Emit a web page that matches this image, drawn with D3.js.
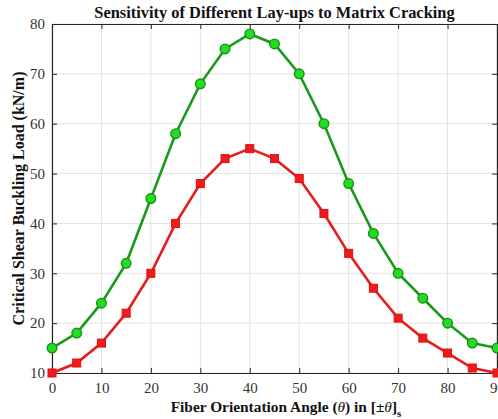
<!DOCTYPE html>
<html>
<head>
<meta charset="utf-8">
<script src="https://cdn.jsdelivr.net/npm/d3@7"></script>
<style>
  html, body { margin: 0; padding: 0; background: #fff; }
  svg { display: block; }
</style>
</head>
<body>
<svg id="chart" width="498" height="419"></svg>
<script>
// Fiber orientation angles (degrees)
const angles = [0, 5, 10, 15, 20, 25, 30, 35, 40, 45, 50, 55, 60, 65, 70, 75, 80, 85, 90];
// Critical shear buckling load (kN/m), two lay-up cases
const upperSeries = [15, 18, 24, 32, 45, 58, 68, 75, 78, 76, 70, 60, 48, 38, 30, 25, 20, 16, 15];
const lowerSeries = [10, 12, 16, 22, 30, 40, 48, 53, 55, 53, 49, 42, 34, 27, 21, 17, 14, 11, 10];
const xTicks = [0, 10, 20, 30, 40, 50, 60, 70, 80, 90];
const yTicks = [10, 20, 30, 40, 50, 60, 70, 80];

const svg = d3.select("#chart");
const margin = { left: 52, right: 1, top: 24, bottom: 46 };
const W = 498, H = 419;
const x = d3.scaleLinear().domain([0, 90]).range([margin.left, W - margin.right]);
const y = d3.scaleLinear().domain([10, 80]).range([H - margin.bottom, margin.top]);

const serif = "'Liberation Serif', 'Times New Roman', serif";

// grid
const grid = svg.append("g").attr("stroke", "#e3e3e3").attr("stroke-width", 1);
grid.selectAll("line.vx").data(xTicks).join("line")
  .attr("x1", d => x(d)).attr("x2", d => x(d))
  .attr("y1", y(10)).attr("y2", y(80));
grid.selectAll("line.hy").data(yTicks).join("line")
  .attr("x1", x(0)).attr("x2", x(90))
  .attr("y1", d => y(d)).attr("y2", d => y(d));

// axes with inward ticks
const axisColor = "#262626";
const xAxis = svg.append("g").attr("transform", `translate(0,${y(10)})`)
  .call(d3.axisBottom(x).tickValues(xTicks).tickSizeInner(-5).tickSizeOuter(0).tickPadding(9));
const yAxis = svg.append("g").attr("transform", `translate(${x(0)},0)`)
  .call(d3.axisLeft(y).tickValues(yTicks).tickSizeInner(-5).tickSizeOuter(0).tickPadding(7));
const xTop = svg.append("g").attr("transform", `translate(0,${y(80)})`)
  .call(d3.axisTop(x).tickValues(xTicks).tickSizeInner(-5).tickSizeOuter(0).tickFormat(""));
const yRight = svg.append("g").attr("transform", `translate(${x(90)},0)`)
  .call(d3.axisRight(y).tickValues(yTicks).tickSizeInner(-5).tickSizeOuter(0).tickFormat(""));
[xAxis, yAxis, xTop, yRight].forEach(g => {
  g.attr("font-family", serif).attr("font-size", 15);
  g.select(".domain").attr("stroke", axisColor).attr("stroke-width", 1.2);
  g.selectAll(".tick line").attr("stroke", axisColor);
  g.selectAll(".tick text").attr("fill", "#333");
});

// series lines
const line = d3.line().x((d, i) => x(angles[i])).y(d => y(d));
svg.append("path").datum(upperSeries).attr("d", line)
  .attr("fill", "none").attr("stroke", "#1a9a1a").attr("stroke-width", 2.6);
svg.append("path").datum(lowerSeries).attr("d", line)
  .attr("fill", "none").attr("stroke", "#e81c1c").attr("stroke-width", 2.6);

// markers
svg.append("g").selectAll("circle").data(upperSeries).join("circle")
  .attr("cx", (d, i) => x(angles[i])).attr("cy", d => y(d)).attr("r", 4.8)
  .attr("fill", "#22dd22").attr("stroke", "#169016").attr("stroke-width", 1.4);
const s = 8;
svg.append("g").selectAll("rect").data(lowerSeries).join("rect")
  .attr("x", (d, i) => x(angles[i]) - s / 2).attr("y", d => y(d) - s / 2)
  .attr("width", s).attr("height", s)
  .attr("fill", "#ee1c1c").attr("stroke", "#e01010").attr("stroke-width", 1);

// title
svg.append("text").attr("x", (x(0) + x(90)) / 2).attr("y", 18)
  .attr("text-anchor", "middle").attr("font-family", serif)
  .attr("font-weight", "bold").attr("font-size", 16.4).attr("fill", "#111")
  .text("Sensitivity of Different Lay-ups to Matrix Cracking");

// x label
const xl = svg.append("text").attr("x", 286).attr("y", 412)
  .attr("text-anchor", "middle").attr("font-family", serif)
  .attr("font-weight", "bold").attr("font-size", 15.4).attr("fill", "#111");
xl.append("tspan").text("Fiber Orientation Angle (");
xl.append("tspan").attr("font-style", "italic").attr("font-weight", "normal").text("θ");
xl.append("tspan").text(") in [±");
xl.append("tspan").attr("font-style", "italic").attr("font-weight", "normal").text("θ");
xl.append("tspan").text("]");
xl.append("tspan").attr("dy", 5).attr("font-size", 11).text("s");

// y label
svg.append("text")
  .attr("transform", `translate(24,${(y(10) + y(80)) / 2}) rotate(-90)`)
  .attr("text-anchor", "middle").attr("font-family", serif)
  .attr("font-weight", "bold").attr("font-size", 16).attr("fill", "#111")
  .text("Critical Shear Buckling Load (kN/m)");
</script>
</body>
</html>
